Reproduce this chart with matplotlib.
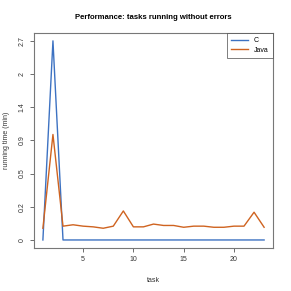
import numpy as np
import matplotlib
matplotlib.use("Agg")
import matplotlib.pyplot as plt

plt.rcParams['font.family'] = ['Liberation Sans', 'DejaVu Sans']

# data
task = list(range(1, 24))
c_time = [0.0, 2.7, 0.0, 0.0, 0.0, 0.0, 0.0, 0.0, 0.0, 0.0, 0.0, 0.0,
          0.0, 0.0, 0.0, 0.0, 0.0, 0.0, 0.0, 0.0, 0.0, 0.0, 0.0]
java_time = [0.08, 1.0, 0.095, 0.105, 0.095, 0.09, 0.08, 0.095, 0.21, 0.09, 0.09, 0.11,
             0.10, 0.10, 0.087, 0.095, 0.095, 0.087, 0.087, 0.095, 0.095, 0.20, 0.087]
ytick_labels = ["0", "0.2", "0.5", "0.9", "1.4", "2", "2.7"]
xticks = [5, 10, 15, 20]

top = np.log1p(2.7)
ypos = np.expm1(np.arange(7) * top / 6)

fig = plt.figure(figsize=(2.91, 2.91), dpi=100)
ax = fig.add_axes([0.117, 0.148, 0.821, 0.739])
ax.set_yscale('function', functions=(np.log1p, np.expm1))

ax.plot(task, c_time, color='#3d72c2', lw=1.0, label='C')
ax.plot(task, java_time, color='#cf6320', lw=1.0, label='Java')

pad = 0.04 * top
ax.set_ylim(np.expm1(-pad), np.expm1(top + pad))
ax.set_xlim(1 - 0.04 * 22, 23 + 0.04 * 22)
ax.set_yticks(ypos)
ax.set_yticklabels(ytick_labels, rotation=90, va='center')
ax.set_xticks(xticks)
ax.minorticks_off()
ax.tick_params(labelsize=5, length=3, width=0.6, color='#555555', labelcolor='#333333', pad=3)

for s in ax.spines.values():
    s.set_color('#777777')
    s.set_linewidth(0.8)

ax.set_xlabel('task', fontsize=5, color='#333333', labelpad=10)
ax.set_ylabel('running time (min)', fontsize=5, color='#333333', labelpad=6)
ax.set_title('Performance: tasks running without errors', fontsize=5.6, fontweight='bold', pad=10)

leg = ax.legend(loc='upper right', fontsize=5, frameon=True, fancybox=False,
                borderaxespad=0, handlelength=2.5, borderpad=0.6, labelspacing=0.4)
leg.get_frame().set_edgecolor('#444444')
leg.get_frame().set_linewidth(0.6)

fig.savefig('out.png', dpi=100)
